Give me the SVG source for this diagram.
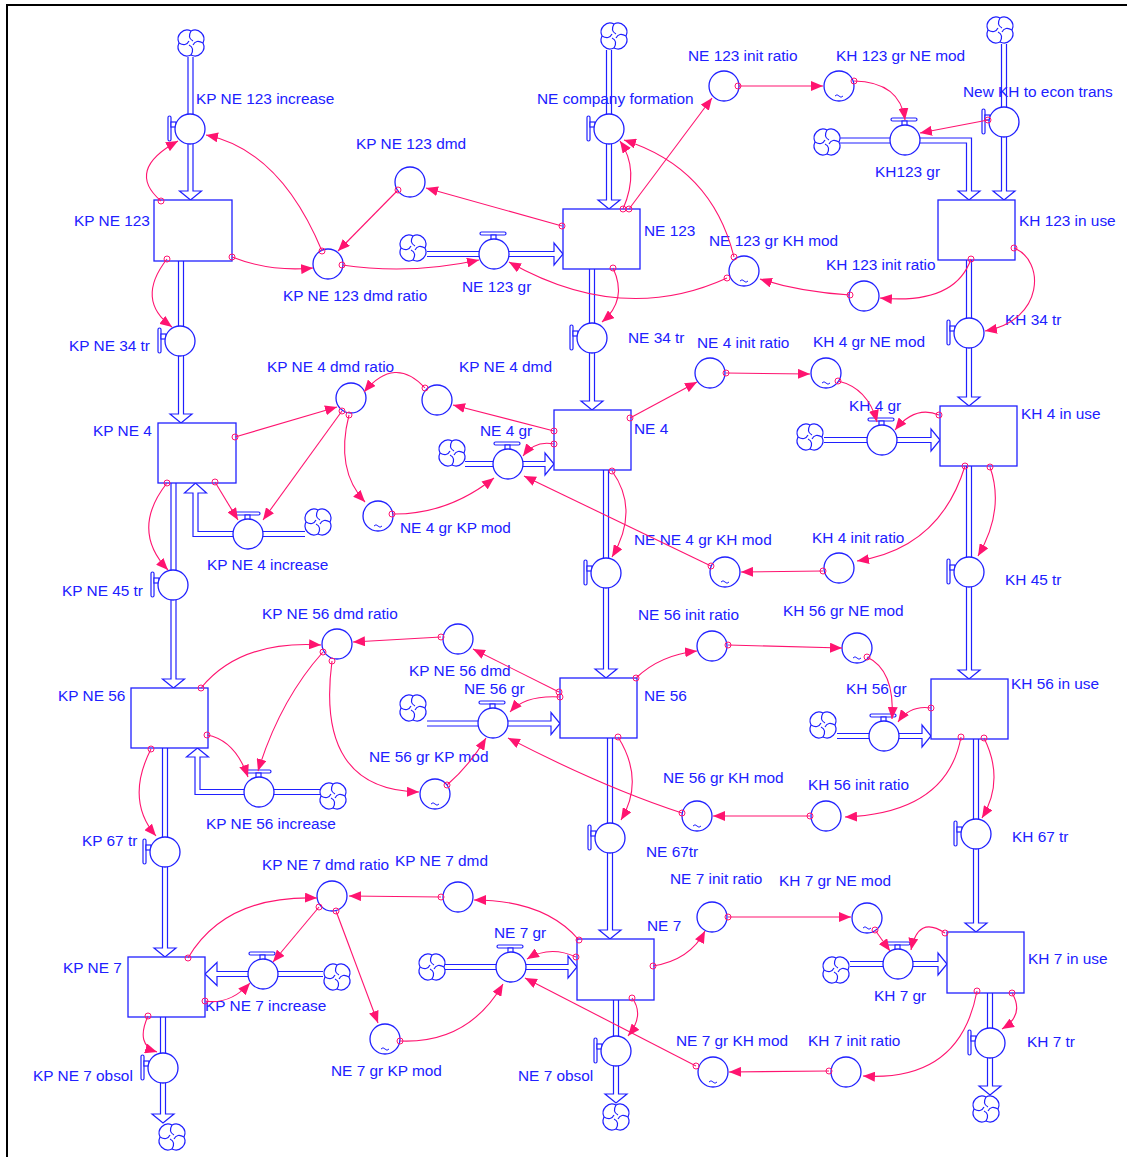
<svg xmlns="http://www.w3.org/2000/svg" width="1127" height="1157" viewBox="0 0 1127 1157">
<style>
text{font-family:"Liberation Sans",Arial,sans-serif;font-size:15.4px;fill:#2020ff}
.st,.v,.a{fill:#fff;stroke:#2020ff;stroke-width:1.3}
.p{fill:#fff;stroke:#2020ff;stroke-width:1.2}
.tl{fill:none;stroke:#2020ff;stroke-width:1}
.c{fill:none;stroke:#ff1470;stroke-width:1.1;marker-start:url(#dt);marker-end:url(#ah)}
</style>
<defs>
<marker id="ah" viewBox="0 0 12 10" refX="12" refY="5" markerWidth="12" markerHeight="10" markerUnits="userSpaceOnUse" orient="auto"><path d="M0,0 L12,5 L0,10 z" fill="#ff1470"/></marker>
<marker id="dt" viewBox="-4 -4 8 8" refX="0" refY="0" markerWidth="8" markerHeight="8" markerUnits="userSpaceOnUse"><circle r="3" fill="none" stroke="#ff1470" stroke-width="1"/></marker>
<g id="cloud" fill="#fff" stroke="#2020ff" stroke-width="1.2"><path d="M0,-12 A9,9 0 0 1 12,0 A9,9 0 0 1 0,12 A9,9 0 0 1 -12,0 A9,9 0 0 1 0,-12 Z"/><path fill="none" d="M0,-12 Q-4,-5 2,-2 M12,0 Q5,-4 2,2 M0,12 Q4,5 -2,2 M-12,0 Q-5,4 -2,-2"/></g>
<g id="hl" fill="#fff" stroke="#2020ff" stroke-width="1.2"><rect x="-22" y="-13" width="3" height="25" rx="1.5"/><rect x="-19" y="-7" width="5" height="5"/></g>
<g id="ht" fill="#fff" stroke="#2020ff" stroke-width="1.2"><rect x="-14" y="-22" width="26" height="3" rx="1.5"/><rect x="-3" y="-19" width="5" height="5"/></g>
</defs>
<rect x="7" y="5" width="1200" height="1200" fill="#fff" stroke="#000" stroke-width="2"/>

<g id="flows">
<path class="p" d="M188,57 V191 H179.5 L190.5,200 L201.5,191 H193 V57"/>
<path class="p" d="M178.5,261 V414 H170 L181,423 L192,414 H183.5 V261"/>
<path class="p" d="M171,483 V679 H162.5 L173.5,688 L184.5,679 H176 V483"/>
<path class="p" d="M162.5,748 V948 H154 L165,957 L176,948 H167.5 V748"/>
<path class="p" d="M160.5,1017 V1114 H152 L163,1123 L174,1114 H165.5 V1017"/>
<path class="p" d="M305,536.5 H193 V493 H184.5 L195.5,483 L206.5,493 H198 V531.5 H305"/>
<path class="p" d="M320,794.5 H195 V757 H186.5 L197.5,748 L208.5,757 H200 V789.5 H320"/>
<path class="p" d="M323,971.5 H217 V962.5 L205,974 L217,985.5 V976.5 H323"/>
<path class="p" d="M606.5,50 V200 H598 L609,209 L620,200 H611.5 V50"/>
<path class="p" d="M589.5,269 V401 H581 L592,410 L603,401 H594.5 V269"/>
<path class="p" d="M603.5,470 V669 H595 L606,678 L617,669 H608.5 V470"/>
<path class="p" d="M607.5,738 V930 H599 L610,939 L621,930 H612.5 V738"/>
<path class="p" d="M613.5,1000 V1094 H605 L616,1103 L627,1094 H618.5 V1000"/>
<path class="p" d="M427,251.5 H554 V243 L563,254 L554,265 V256.5 H427"/>
<path class="p" d="M465,461.5 H545 V453 L554,464 L545,475 V466.5 H465"/>
<path class="p" d="M427,721 H551 V712.5 L560,723.5 L551,734.5 V726 H427"/>
<path class="p" d="M445,964.5 H568 V956 L577,967 L568,978 V969.5 H445"/>
<path class="p" d="M840,138 H971.5 V191 H980 L969,200 L958,191 H966.5 V143 H840"/>
<path class="p" d="M1001.5,44 V191 H993 L1004,200 L1015,191 H1006.5 V44"/>
<path class="p" d="M966.5,260 V397 H958 L969,406 L980,397 H971.5 V260"/>
<path class="p" d="M966.5,466 V670 H958 L969,679 L980,670 H971.5 V466"/>
<path class="p" d="M973.5,739 V923 H965 L976,932 L987,923 H978.5 V739"/>
<path class="p" d="M987.5,993 V1086 H979 L990,1095 L1001,1086 H992.5 V993"/>
<path class="p" d="M824,437.5 H931 V429 L940,440 L931,451 V442.5 H824"/>
<path class="p" d="M837,733.5 H922 V725 L931,736 L922,747 V738.5 H837"/>
<path class="p" d="M850,961.5 H938 V953 L947,964 L938,975 V966.5 H850"/>
</g>

<g id="clouds">
<use href="#cloud" x="191" y="43"/><use href="#cloud" x="614" y="36"/><use href="#cloud" x="1000" y="30"/>
<use href="#cloud" x="413" y="248"/><use href="#cloud" x="827" y="142"/><use href="#cloud" x="318" y="522"/>
<use href="#cloud" x="452" y="453"/><use href="#cloud" x="810" y="437"/><use href="#cloud" x="333" y="796"/>
<use href="#cloud" x="413" y="708"/><use href="#cloud" x="823" y="725"/><use href="#cloud" x="337" y="977"/>
<use href="#cloud" x="432" y="967"/><use href="#cloud" x="836" y="970"/><use href="#cloud" x="172" y="1137"/>
<use href="#cloud" x="616" y="1117"/><use href="#cloud" x="986" y="1109"/>
</g>

<g id="stock-kp-ne-123"><rect class="st" x="154" y="200" width="78" height="61"/><text x="74" y="226">KP NE 123</text></g>
<g id="stock-ne-123"><rect class="st" x="563" y="209" width="77" height="60"/><text x="644" y="236">NE 123</text></g>
<g id="stock-kh-123"><rect class="st" x="938" y="200" width="77" height="60"/><text x="1019" y="226">KH 123 in use</text></g>
<g id="stock-kp-ne-4"><rect class="st" x="158" y="423" width="78" height="60"/><text x="93" y="436">KP NE 4</text></g>
<g id="stock-ne-4"><rect class="st" x="554" y="410" width="77" height="60"/><text x="634" y="434">NE 4</text></g>
<g id="stock-kh-4"><rect class="st" x="940" y="406" width="77" height="60"/><text x="1021" y="419">KH 4 in use</text></g>
<g id="stock-kp-ne-56"><rect class="st" x="131" y="688" width="77" height="60"/><text x="58" y="701">KP NE 56</text></g>
<g id="stock-ne-56"><rect class="st" x="560" y="678" width="77" height="60"/><text x="644" y="701">NE 56</text></g>
<g id="stock-kh-56"><rect class="st" x="931" y="679" width="77" height="60"/><text x="1011" y="689">KH 56 in use</text></g>
<g id="stock-kp-ne-7"><rect class="st" x="128" y="957" width="77" height="60"/><text x="63" y="973">KP NE 7</text></g>
<g id="stock-ne-7"><rect class="st" x="577" y="939" width="77" height="61"/><text x="647" y="931">NE 7</text></g>
<g id="stock-kh-7"><rect class="st" x="947" y="932" width="77" height="61"/><text x="1028" y="964">KH 7 in use</text></g>

<g id="v-kp-ne-123-increase"><use href="#hl" x="190" y="129"/><circle class="v" cx="190" cy="129" r="15"/><text x="196" y="104">KP NE 123 increase</text></g>
<g id="v-ne-company-formation"><use href="#hl" x="609" y="129"/><circle class="v" cx="609" cy="129" r="15"/><text x="537" y="104">NE company formation</text></g>
<g id="v-new-kh"><use href="#hl" x="1004" y="122"/><circle class="v" cx="1004" cy="122" r="15"/><text x="963" y="97">New KH to econ trans</text></g>
<g id="v-kp-ne-34-tr"><use href="#hl" x="180" y="341"/><circle class="v" cx="180" cy="341" r="15"/><text x="69" y="351">KP NE 34 tr</text></g>
<g id="v-ne-34-tr"><use href="#hl" x="592" y="338"/><circle class="v" cx="592" cy="338" r="15"/><text x="628" y="343">NE 34 tr</text></g>
<g id="v-kh-34-tr"><use href="#hl" x="969" y="333"/><circle class="v" cx="969" cy="333" r="15"/><text x="1005" y="325">KH 34 tr</text></g>
<g id="v-kp-ne-45-tr"><use href="#hl" x="173" y="585"/><circle class="v" cx="173" cy="585" r="15"/><text x="62" y="596">KP NE 45 tr</text></g>
<g id="v-ne-45-tr"><use href="#hl" x="606" y="573"/><circle class="v" cx="606" cy="573" r="15"/></g>
<g id="v-kh-45-tr"><use href="#hl" x="969" y="572"/><circle class="v" cx="969" cy="572" r="15"/><text x="1005" y="585">KH 45 tr</text></g>
<g id="v-kp-67-tr"><use href="#hl" x="165" y="852"/><circle class="v" cx="165" cy="852" r="15"/><text x="82" y="846">KP 67 tr</text></g>
<g id="v-ne-67tr"><use href="#hl" x="610" y="838"/><circle class="v" cx="610" cy="838" r="15"/><text x="646" y="857">NE 67tr</text></g>
<g id="v-kh-67-tr"><use href="#hl" x="976" y="834"/><circle class="v" cx="976" cy="834" r="15"/><text x="1012" y="842">KH 67 tr</text></g>
<g id="v-kp-ne-7-obsol"><use href="#hl" x="163" y="1068"/><circle class="v" cx="163" cy="1068" r="15"/><text x="33" y="1081">KP NE 7 obsol</text></g>
<g id="v-ne-7-obsol"><use href="#hl" x="616" y="1051"/><circle class="v" cx="616" cy="1051" r="15"/><text x="518" y="1081">NE 7 obsol</text></g>
<g id="v-kh-7-tr"><use href="#hl" x="990" y="1043"/><circle class="v" cx="990" cy="1043" r="15"/><text x="1027" y="1047">KH 7 tr</text></g>
<g id="v-ne-123-gr"><use href="#ht" x="494" y="254"/><circle class="v" cx="494" cy="254" r="15"/><text x="462" y="292">NE 123 gr</text></g>
<g id="v-kh123-gr"><use href="#ht" x="905" y="140"/><circle class="v" cx="905" cy="140" r="15"/><text x="875" y="177">KH123 gr</text></g>
<g id="v-kp-ne-4-increase"><use href="#ht" x="248" y="534"/><circle class="v" cx="248" cy="534" r="15"/><text x="207" y="570">KP NE 4 increase</text></g>
<g id="v-ne-4-gr"><use href="#ht" x="508" y="464"/><circle class="v" cx="508" cy="464" r="15"/><text x="480" y="436">NE 4 gr</text></g>
<g id="v-kh-4-gr"><use href="#ht" x="882" y="440"/><circle class="v" cx="882" cy="440" r="15"/><text x="849" y="411">KH 4 gr</text></g>
<g id="v-kp-ne-56-increase"><use href="#ht" x="259" y="792"/><circle class="v" cx="259" cy="792" r="15"/><text x="206" y="829">KP NE 56 increase</text></g>
<g id="v-ne-56-gr"><use href="#ht" x="493" y="723"/><circle class="v" cx="493" cy="723" r="15"/><text x="464" y="694">NE 56 gr</text></g>
<g id="v-kh-56-gr"><use href="#ht" x="884" y="736"/><circle class="v" cx="884" cy="736" r="15"/><text x="846" y="694">KH 56 gr</text></g>
<g id="v-kp-ne-7-increase"><use href="#ht" x="263" y="974"/><circle class="v" cx="263" cy="974" r="15"/><text x="205" y="1011">KP NE 7 increase</text></g>
<g id="v-ne-7-gr"><use href="#ht" x="511" y="967"/><circle class="v" cx="511" cy="967" r="15"/><text x="494" y="938">NE 7 gr</text></g>
<g id="v-kh-7-gr"><use href="#ht" x="898" y="964"/><circle class="v" cx="898" cy="964" r="15"/><text x="874" y="1001">KH 7 gr</text></g>

<g id="a-kp-ne-123-dmd-ratio"><circle class="a" cx="328" cy="264" r="15"/><text x="283" y="301">KP NE 123 dmd ratio</text></g>
<g id="a-kp-ne-123-dmd"><circle class="a" cx="410" cy="182" r="15"/><text x="356" y="149">KP NE 123 dmd</text></g>
<g id="a-ne-123-init-ratio"><circle class="a" cx="724" cy="86" r="15"/><text x="688" y="61">NE 123 init ratio</text></g>
<g id="a-kh-123-gr-ne-mod"><circle class="a" cx="839" cy="86" r="15"/><path class="tl" d="M835,96 q2,-2.5 4,0 t4,0"/><text x="836" y="61">KH 123 gr NE mod</text></g>
<g id="a-ne-123-gr-kh-mod"><circle class="a" cx="744" cy="271" r="15"/><path class="tl" d="M740,281 q2,-2.5 4,0 t4,0"/><text x="709" y="246">NE 123 gr KH mod</text></g>
<g id="a-kh-123-init-ratio"><circle class="a" cx="864" cy="296" r="15"/><text x="826" y="270">KH 123 init ratio</text></g>
<g id="a-kp-ne-4-dmd-ratio"><circle class="a" cx="351" cy="398" r="15"/><text x="267" y="372">KP NE 4 dmd ratio</text></g>
<g id="a-kp-ne-4-dmd"><circle class="a" cx="437" cy="400" r="15"/><text x="459" y="372">KP NE 4 dmd</text></g>
<g id="a-ne-4-gr-kp-mod"><circle class="a" cx="378" cy="516" r="15"/><path class="tl" d="M374,526 q2,-2.5 4,0 t4,0"/><text x="400" y="533">NE 4 gr KP mod</text></g>
<g id="a-ne-4-init-ratio"><circle class="a" cx="710" cy="373" r="15"/><text x="697" y="348">NE 4 init ratio</text></g>
<g id="a-kh-4-gr-ne-mod"><circle class="a" cx="826" cy="373" r="15"/><path class="tl" d="M822,383 q2,-2.5 4,0 t4,0"/><text x="813" y="347">KH 4 gr NE mod</text></g>
<g id="a-ne-ne-4-gr-kh-mod"><circle class="a" cx="725" cy="572" r="15"/><path class="tl" d="M721,582 q2,-2.5 4,0 t4,0"/><text x="634" y="545">NE NE 4 gr KH mod</text></g>
<g id="a-kh-4-init-ratio"><circle class="a" cx="839" cy="568" r="15"/><text x="812" y="543">KH 4 init ratio</text></g>
<g id="a-kp-ne-56-dmd-ratio"><circle class="a" cx="337" cy="644" r="15"/><text x="262" y="619">KP NE 56 dmd ratio</text></g>
<g id="a-kp-ne-56-dmd"><circle class="a" cx="458" cy="639" r="15"/><text x="409" y="676">KP NE 56 dmd</text></g>
<g id="a-ne-56-gr-kp-mod"><circle class="a" cx="435" cy="794" r="15"/><path class="tl" d="M431,804 q2,-2.5 4,0 t4,0"/><text x="369" y="762">NE 56 gr KP mod</text></g>
<g id="a-ne-56-init-ratio"><circle class="a" cx="712" cy="646" r="15"/><text x="638" y="620">NE 56 init ratio</text></g>
<g id="a-kh-56-gr-ne-mod"><circle class="a" cx="857" cy="648" r="15"/><path class="tl" d="M853,658 q2,-2.5 4,0 t4,0"/><text x="783" y="616">KH 56 gr NE mod</text></g>
<g id="a-ne-56-gr-kh-mod"><circle class="a" cx="697" cy="816" r="15"/><path class="tl" d="M693,826 q2,-2.5 4,0 t4,0"/><text x="663" y="783">NE 56 gr KH mod</text></g>
<g id="a-kh-56-init-ratio"><circle class="a" cx="826" cy="816" r="15"/><text x="808" y="790">KH 56 init ratio</text></g>
<g id="a-kp-ne-7-dmd-ratio"><circle class="a" cx="332" cy="896" r="15"/><text x="262" y="870">KP NE 7 dmd ratio</text></g>
<g id="a-kp-ne-7-dmd"><circle class="a" cx="458" cy="897" r="15"/><text x="395" y="866">KP NE 7 dmd</text></g>
<g id="a-ne-7-gr-kp-mod"><circle class="a" cx="385" cy="1039" r="15"/><path class="tl" d="M381,1049 q2,-2.5 4,0 t4,0"/><text x="331" y="1076">NE 7 gr KP mod</text></g>
<g id="a-ne-7-init-ratio"><circle class="a" cx="712" cy="917" r="15"/><text x="670" y="884">NE 7 init ratio</text></g>
<g id="a-kh-7-gr-ne-mod"><circle class="a" cx="867" cy="918" r="15"/><path class="tl" d="M863,928 q2,-2.5 4,0 t4,0"/><text x="779" y="886">KH 7 gr NE mod</text></g>
<g id="a-ne-7-gr-kh-mod"><circle class="a" cx="713" cy="1072" r="15"/><path class="tl" d="M709,1082 q2,-2.5 4,0 t4,0"/><text x="676" y="1046">NE 7 gr KH mod</text></g>
<g id="a-kh-7-init-ratio"><circle class="a" cx="846" cy="1072" r="15"/><text x="808" y="1046">KH 7 init ratio</text></g>

<g id="connectors">
<path class="c" d="M161,201 Q125,170 178,141"/>
<path class="c" d="M322,251 Q280,150 206,135"/>
<path class="c" d="M232,257 Q270,272 313,268"/>
<path class="c" d="M342,265 Q410,275 479,260"/>
<path class="c" d="M398,190 L338,251"/>
<path class="c" d="M562,226 L426,188"/>
<path class="c" d="M167,259 Q135,300 172,327"/>
<path class="c" d="M623,209 Q640,170 620,141"/>
<path class="c" d="M629,209 L712,98"/>
<path class="c" d="M738,86 L823,86"/>
<path class="c" d="M854,81 Q900,82 905,120"/>
<path class="c" d="M988,120 L920,133"/>
<path class="c" d="M734,257 Q712,168 624,140"/>
<path class="c" d="M727,278 Q622,326 509,262"/>
<path class="c" d="M613,268 Q628,300 602,322"/>
<path class="c" d="M850,295 Q800,292 760,279"/>
<path class="c" d="M971,259 Q955,305 880,298"/>
<path class="c" d="M1014,248 C1045,260 1045,320 985,331"/>
<path class="c" d="M235,437 L337,407"/>
<path class="c" d="M215,482 L238,520"/>
<path class="c" d="M167,483 Q130,530 168,570"/>
<path class="c" d="M342,411 L263,520"/>
<path class="c" d="M349,415 Q335,470 365,502"/>
<path class="c" d="M425,388 Q395,355 364,392"/>
<path class="c" d="M554,431 L453,405"/>
<path class="c" d="M554,444 Q535,440 523,456"/>
<path class="c" d="M630,418 L697,382"/>
<path class="c" d="M612,471 Q640,510 612,557"/>
<path class="c" d="M726,373 L810,374"/>
<path class="c" d="M838,381 Q868,388 877,422"/>
<path class="c" d="M939,415 Q915,405 895,430"/>
<path class="c" d="M965,466 Q940,548 857,561"/>
<path class="c" d="M990,467 Q1005,510 978,556"/>
<path class="c" d="M823,571 L741,572"/>
<path class="c" d="M711,566 L524,476"/>
<path class="c" d="M392,514 Q447,515 494,478"/>
<path class="c" d="M201,688 Q240,640 321,645"/>
<path class="c" d="M207,735 Q235,740 248,777"/>
<path class="c" d="M151,749 Q125,800 156,836"/>
<path class="c" d="M323,652 Q280,700 258,771"/>
<path class="c" d="M332,661 Q315,790 419,792"/>
<path class="c" d="M441,637 L353,642"/>
<path class="c" d="M559,692 L473,649"/>
<path class="c" d="M560,697 Q525,695 510,712"/>
<path class="c" d="M636,678 Q660,655 697,651"/>
<path class="c" d="M728,645 L842,648"/>
<path class="c" d="M867,657 Q895,670 892,719"/>
<path class="c" d="M931,708 Q910,705 898,722"/>
<path class="c" d="M961,737 Q947,813 845,817"/>
<path class="c" d="M984,738 Q1005,780 982,818"/>
<path class="c" d="M810,816 L713,816"/>
<path class="c" d="M682,813 Q605,788 508,738"/>
<path class="c" d="M447,785 Q470,765 486,738"/>
<path class="c" d="M618,737 Q645,780 621,820"/>
<path class="c" d="M205,1001 Q230,1005 250,983"/>
<path class="c" d="M188,958 Q225,895 317,898"/>
<path class="c" d="M148,1016 Q135,1045 157,1052"/>
<path class="c" d="M319,907 L273,962"/>
<path class="c" d="M336,911 L378,1023"/>
<path class="c" d="M441,897 L349,896"/>
<path class="c" d="M579,940 Q545,900 474,900"/>
<path class="c" d="M576,957 Q550,945 527,959"/>
<path class="c" d="M653,966 Q690,960 705,931"/>
<path class="c" d="M632,998 Q645,1015 628,1036"/>
<path class="c" d="M728,917 L851,917"/>
<path class="c" d="M875,930 L890,951"/>
<path class="c" d="M945,933 Q918,915 911,950"/>
<path class="c" d="M977,991 Q960,1082 863,1076"/>
<path class="c" d="M1012,993 Q1025,1015 1002,1029"/>
<path class="c" d="M829,1071 L729,1072"/>
<path class="c" d="M696,1066 L525,978"/>
<path class="c" d="M400,1041 Q468,1044 503,984"/>
</g>
</svg>
